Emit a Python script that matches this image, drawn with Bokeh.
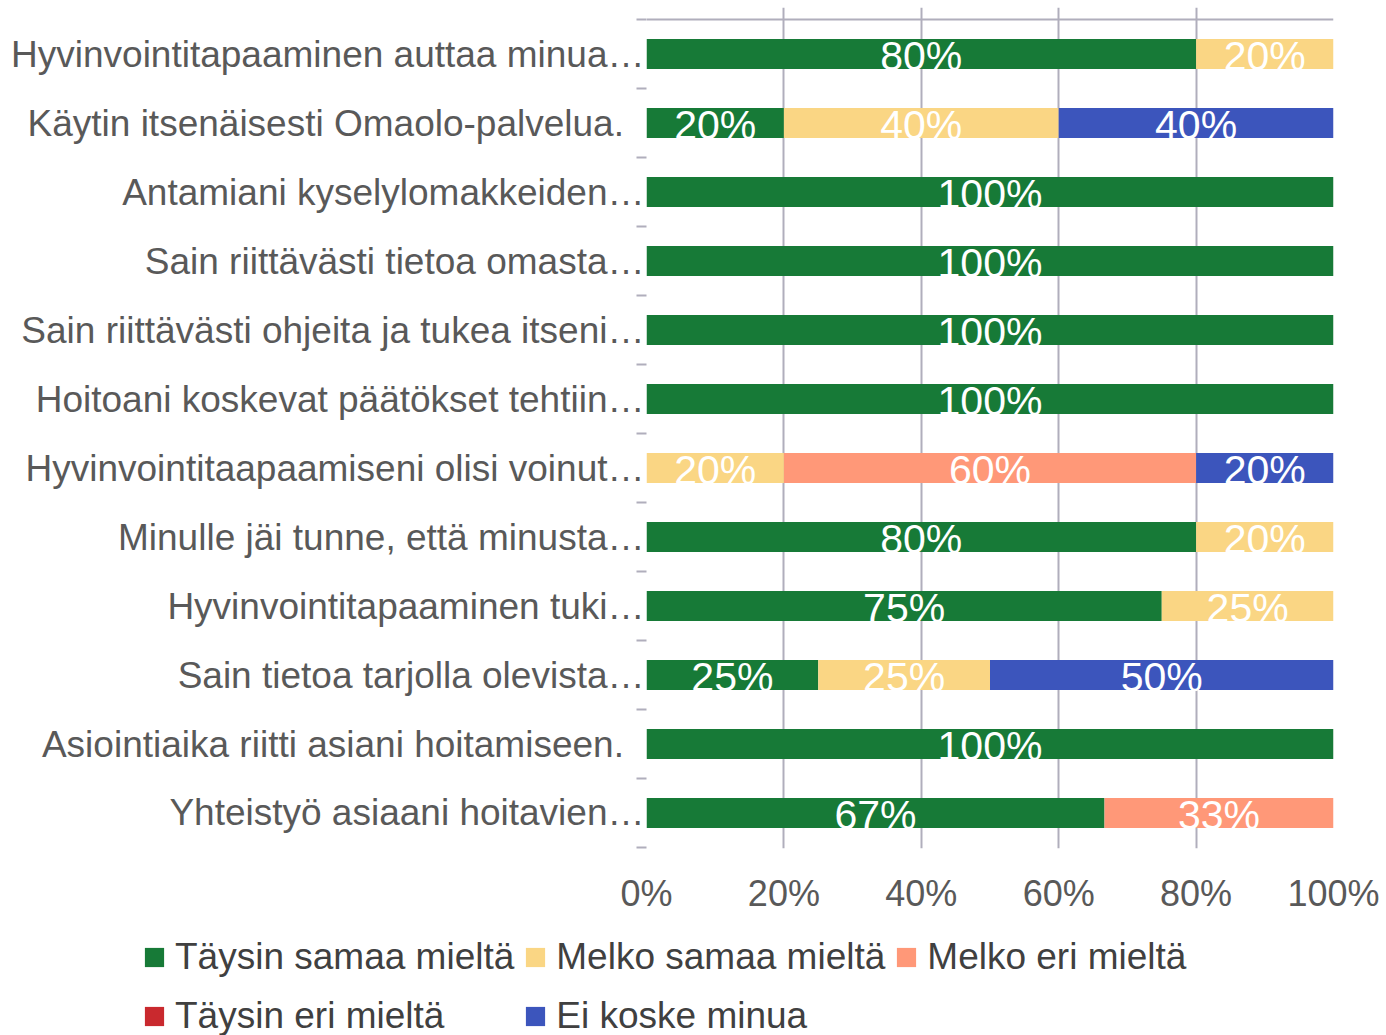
from bokeh.plotting import figure
from bokeh.models import (Range1d, FixedTicker, Span, Legend, LegendItem,
                          ColumnDataSource, NumeralTickFormatter)
from bokeh.core.properties import value
from bokeh.embed import file_html
from bokeh.resources import INLINE

categories = [
    "Hyvinvointitapaaminen auttaa minua…",
    "Käytin itsenäisesti Omaolo-palvelua.\u00a0\u00a0",
    "Antamiani kyselylomakkeiden…",
    "Sain riittävästi tietoa omasta…",
    "Sain riittävästi ohjeita ja tukea itseni…",
    "Hoitoani koskevat päätökset tehtiin…",
    "Hyvinvointitaapaamiseni olisi voinut…",
    "Minulle jäi tunne, että minusta…",
    "Hyvinvointitapaaminen tuki…",
    "Sain tietoa tarjolla olevista…",
    "Asiointiaika riitti asiani hoitamiseen.\u00a0\u00a0",
    "Yhteistyö asiaani hoitavien…",
]
series_names = ["Täysin samaa mieltä", "Melko samaa mieltä", "Melko eri mieltä",
                "Täysin eri mieltä", "Ei koske minua"]
taysin_samaa = [0.80, 0.20, 1.00, 1.00, 1.00, 1.00, 0.00, 0.80, 0.75, 0.25, 1.00, 2/3]
melko_samaa  = [0.20, 0.40, 0.00, 0.00, 0.00, 0.00, 0.20, 0.20, 0.25, 0.25, 0.00, 0.00]
melko_eri    = [0.00, 0.00, 0.00, 0.00, 0.00, 0.00, 0.60, 0.00, 0.00, 0.00, 0.00, 1/3]
taysin_eri   = [0.00, 0.00, 0.00, 0.00, 0.00, 0.00, 0.00, 0.00, 0.00, 0.00, 0.00, 0.00]
ei_koske     = [0.00, 0.40, 0.00, 0.00, 0.00, 0.00, 0.20, 0.00, 0.00, 0.50, 0.00, 0.00]
x_ticks = [0, 0.2, 0.4, 0.6, 0.8, 1.0]

colors = ["#177A37", "#FAD684", "#FF9878", "#C9292E", "#3C55BC"]
series = [taysin_samaa, melko_samaa, melko_eri, taysin_eri, ei_koske]

n = len(categories)
centers = [n - i - 0.5 for i in range(n)]
bounds = [float(k) for k in range(n + 1)]
bar_h = 0.435

FONT = "Liberation Sans"
GRID = "#B0AEBC"

TOP_H = 930
p = figure(width=1386, height=TOP_H, output_backend="svg", toolbar_location=None,
           x_range=Range1d(0, 1), y_range=Range1d(-0.0145, 12.174))
p.min_border_left = 646
p.min_border_right = 53
p.min_border_top = 7
p.min_border_bottom = TOP_H - 848
p.outline_line_color = None
p.background_fill_color = "white"

# gridlines
p.xgrid.ticker = FixedTicker(ticks=x_ticks)
p.xgrid.grid_line_color = GRID
p.xgrid.grid_line_width = 2
p.ygrid.grid_line_color = None
p.add_layout(Span(location=n, dimension="width", line_color=GRID, line_width=2))

# x axis
p.xaxis.ticker = FixedTicker(ticks=x_ticks)
p.xaxis.formatter = NumeralTickFormatter(format="0%")
p.xaxis.axis_line_color = None
p.xaxis.major_tick_line_color = None
p.xaxis.minor_tick_line_color = None
p.xaxis.major_label_text_font = FONT
p.xaxis.major_label_text_font_size = "36px"
p.xaxis.major_label_text_color = "#595959"
p.xaxis.major_label_standoff = 18

# y axis
p.yaxis.ticker = FixedTicker(ticks=centers, minor_ticks=bounds)
p.yaxis.major_label_overrides = {c: lab for c, lab in zip(centers, categories)}
p.yaxis.axis_line_color = None
p.yaxis.major_tick_line_color = None
p.yaxis.minor_tick_line_color = GRID
p.yaxis.minor_tick_line_width = 2
p.yaxis.minor_tick_out = 10
p.yaxis.minor_tick_in = 0
p.yaxis.major_label_text_font = FONT
p.yaxis.major_label_text_font_size = "37px"
p.yaxis.major_label_text_color = "#595959"
p.yaxis.major_label_standoff = -8

# legend strip (separate figure below the chart; bars there lie outside its view)
LEG_H = 1035 - TOP_H
lg = figure(width=1386, height=LEG_H, output_backend="svg", toolbar_location=None,
            x_range=Range1d(0, 1), y_range=Range1d(100, 101))
lg.min_border_left = 0
lg.min_border_right = 0
lg.min_border_top = 0
lg.min_border_bottom = 0
lg.axis.visible = False
lg.grid.visible = False
lg.outline_line_color = None

# stacked bars
left = [0.0] * n
label_x, label_y, label_t = [], [], []
items = []
for nm, vals, col in zip(series_names, series, colors):
    right = [l + v for l, v in zip(left, vals)]
    src = ColumnDataSource(dict(y=centers, left=left, right=right))
    p.hbar(y="y", left="left", right="right", height=bar_h, source=src,
           fill_color=col, line_color=None)
    r2 = lg.hbar(y="y", left="left", right="right", height=bar_h,
                 source=ColumnDataSource(dict(y=centers, left=left, right=right)),
                 fill_color=col, line_color=None)
    items.append(LegendItem(label=nm, renderers=[r2]))
    for yc, l, v in zip(centers, left, vals):
        if v > 0:
            label_x.append(l + v / 2)
            label_y.append(yc - 0.035)
            label_t.append(f"{round(v * 100):d}%")
    left = right

p.text(x=label_x, y=label_y, text=label_t, text_color="white",
       text_font=value(FONT), text_font_size="41px",
       text_align="center", text_baseline="alphabetic")

legend = Legend(items=items, location=(142, -6), orientation="horizontal", ncols=3,
                glyph_width=24, glyph_height=24, label_standoff=9, spacing=9,
                label_height=50,
                padding=0, margin=0, border_line_color=None, background_fill_alpha=0,
                label_text_font=FONT, label_text_font_size="37px",
                label_text_color="#404040")
lg.add_layout(legend, "center")

open("out.html", "w").write(file_html([p, lg], INLINE))
